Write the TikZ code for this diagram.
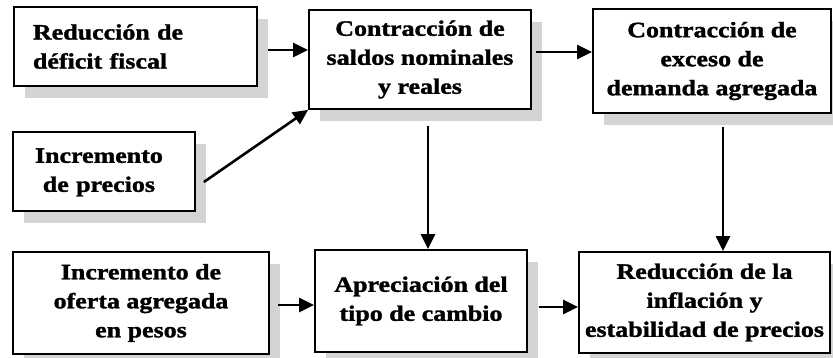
\documentclass[tikz,border=0pt]{standalone}
\usepackage{fontspec}
\setmainfont{Liberation Serif}[FakeStretch=1.18, BoldFeatures={FakeBold=1.5}]
\usetikzlibrary{arrows.meta,shadows,calc}
\begin{document}
\begin{tikzpicture}[x=1pt,y=-1pt,
  box/.style={draw, line width=1.8pt, fill=white, inner sep=0pt,
    font=\bfseries\fontsize{22}{29}\selectfont, align=center,
    drop shadow={shadow xshift=11pt, shadow yshift=-12pt, opacity=1, fill=black!17, draw=none}},
  arr/.style={line width=2.6pt, -{Triangle[length=15pt,width=14pt]}}]
\fill[white] (0,0) rectangle (833,357);
\useasboundingbox (0,0) rectangle (833,357);

\node[box, minimum width=243pt, minimum height=79pt, align=left, text width=205pt, inner xsep=19pt]
  (B1) at (135.5,46.5) {Reducción de\\déficit fiscal};
\node[box, minimum width=222pt, minimum height=99pt] (B2) at (420,59.5)
  {Contracción de\\saldos nominales\\y reales};
\node[box, minimum width=238pt, minimum height=104pt] (B3) at (712,61)
  {Contracción de\\exceso de\\demanda agregada};
\node[box, minimum width=182pt, minimum height=79pt, align=left, text width=138pt, inner xsep=22pt]
  (B4) at (104,171.5) {\begin{tabular}{@{}c@{}}Incremento\\de precios\end{tabular}};
\node[box, minimum width=256pt, minimum height=102pt] (B5) at (141,303)
  {Incremento de\\oferta agregada\\en pesos};
\node[box, minimum width=212pt, minimum height=102pt] (B6) at (421,301)
  {Apreciación del\\tipo de cambio};
\node[box, minimum width=251pt, minimum height=101pt] (B7) at (704.5,302.5)
  {Reducción de la\\inflación y\\estabilidad de precios};

\coordinate (y1) at (0,50);
\coordinate (y3) at (0,52);
\coordinate (x4) at (428,0);
\coordinate (x5) at (723,0);
\coordinate (y6) at (0,305);
\coordinate (y7) at (0,307);

\draw[arr, shorten <=10pt] (B1.east |- y1) -- (B2.west |- y1);
\draw[arr] ($(B4.east)+(8,10.5)$) -- (B2.south west);
\draw[arr, shorten <=4pt] (B2.east |- y3) -- (B3.west |- y3);
\draw[arr, shorten <=16pt] (B2.south -| x4) -- (B6.north -| x4);
\draw[arr, shorten <=13pt] (B3.south -| x5) -- (B7.north -| x5);
\draw[arr, shorten <=8pt] (B5.east |- y6) -- (B6.west |- y6);
\draw[arr, shorten <=11pt] (B6.east |- y7) -- (B7.west |- y7);
\end{tikzpicture}
\end{document}
